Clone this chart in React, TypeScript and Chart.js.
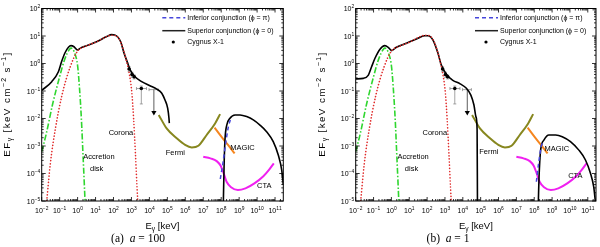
import React, { useEffect, useRef } from "react";
import { Chart, registerables } from "chart.js";
Chart.register(...registerables);

// ---- axis ranges (log10) ----
const X_LOG_MIN = -2;
const X_LOG_MAX = 11.46;
const Y_LOG_MIN = -5;
const Y_LOG_MAX = 2;
const xDecades = [-2, -1, 0, 1, 2, 3, 4, 5, 6, 7, 8, 9, 10, 11];
const yDecades = [-5, -4, -3, -2, -1, 0, 1, 2];

// ---- shared components (log10 E [keV], log10 EF) ----
const diskLogE = [-2, -1.74, -1.4, -1.05, -0.72, -0.45, -0.36, -0.14, 0.0, 0.1, 0.21, 0.3, 0.38, 0.42];
const diskLogF = [-3.2, -2.54, -1.5, -0.6, 0.15, 0.52, 0.56, 0.34, -0.08, -0.84, -2.0, -3.3, -4.48, -5.1];

const coronaLogE = [-1.72, -1.52, -1.24, -0.87, -0.4, 0.0, 0.5, 1.06, 1.62, 1.92, 2.2, 2.42, 2.72, 2.9, 3.02, 3.12, 3.22, 3.31, 3.36];
const coronaLogF = [-5.0, -3.65, -2.38, -1.15, -0.1, 0.45, 0.64, 0.79, 0.98, 1.03, 0.98, 0.75, 0.1, -0.45, -1.05, -2.0, -3.25, -4.5, -5.1];

const fermiLogE = [4.52, 4.96, 5.52, 5.99, 6.36, 6.73, 7.19, 7.66, 7.94];
const fermiLogF = [-1.87, -2.36, -2.72, -2.96, -3.05, -2.99, -2.6, -2.18, -1.84];

const magicLogE = [7.63, 8.01, 8.38, 8.75];
const magicLogF = [-2.33, -2.66, -2.96, -3.27];

const ctaLogE = [7.0, 7.4, 7.75, 7.97, 8.13, 8.3, 8.55, 8.93, 9.35, 9.85, 10.35, 10.65, 10.93];
const ctaLogF = [-3.39, -3.45, -3.55, -3.72, -3.98, -4.3, -4.5, -4.6, -4.54, -4.36, -4.1, -3.88, -3.63];

// Cygnus X-1 data
const cygLogE = [2.87, 3.03, 3.15, 3.55];
const cygLogF = [-0.2, -0.4, -0.48, -0.91];
const cygLogElo = [2.87, 3.0, 3.12, 3.28];
const cygLogEhi = [2.87, 3.06, 3.18, 3.84];
const cygLogFlo = [-0.3, -0.5, -0.56, -1.47];
const cygLogFhi = [-0.12, -0.32, -0.42, -0.82];
const ulLogE = [4.25];
const ulLogF = [-0.95];
const ulLogElo = [3.98];
const ulLogEhi = [4.48];
const ulLogFarrow = [-1.78];

// ---- panel (a) a = 100 ----
const supA1LogE = [-2, -1.44, -1.07, -0.89, -0.7, -0.51, -0.37, -0.2, -0.01, 0.14, 0.51, 1.06, 1.62, 1.9, 2.18, 2.4, 2.59, 2.77, 2.92, 3.2, 3.57, 4.03, 4.41, 4.69, 4.87, 5.02, 5.09, 5.11];
const supA1LogF = [-0.98, -0.66, -0.3, 0.07, 0.39, 0.59, 0.65, 0.61, 0.49, 0.55, 0.65, 0.79, 0.98, 1.05, 1.0, 0.79, 0.37, 0.05, -0.22, -0.48, -0.66, -0.81, -0.93, -1.08, -1.33, -1.63, -1.99, -2.17];
const supA2LogE = [8.12, 8.16, 8.21, 8.31, 8.49, 8.77, 9.05, 9.42, 9.79, 10.16, 10.53, 10.9, 11.18, 11.37, 11.46, 11.52];
const supA2LogF = [-5.05, -3.75, -2.78, -2.24, -1.99, -1.87, -1.87, -1.93, -2.05, -2.24, -2.48, -2.84, -3.33, -3.87, -4.42, -5.1];
const infALogE = [7.95, 8.1, 8.25, 8.4, 8.55];
const infALogF = [-4.2, -3.6, -2.9, -2.3, -1.97];

// ---- panel (b) a = 1 ----
const supB1LogE = [-2, -1.57, -1.29, -1.11, -0.92, -0.64, -0.37, -0.18, 0.01, 0.28, 0.84, 1.4, 1.86, 2.05, 2.33, 2.61, 2.79, 3.07, 3.44, 3.85, 4.2, 4.45, 4.62, 4.74, 4.8, 4.82];
const supB1LogF = [-0.56, -0.54, -0.42, -0.12, 0.19, 0.52, 0.65, 0.59, 0.47, 0.59, 0.74, 0.89, 1.01, 1.01, 0.85, 0.37, -0.05, -0.38, -0.61, -0.74, -0.9, -1.15, -1.5, -1.95, -2.4, -5.1];
const supB2LogE = [8.23, 8.27, 8.36, 8.55, 8.82, 9.2, 9.57, 10.03, 10.5, 10.87, 11.15, 11.33, 11.43];
const supB2LogF = [-5.05, -4.12, -3.15, -2.78, -2.6, -2.6, -2.66, -2.84, -3.15, -3.51, -3.99, -4.48, -5.05];
const infBLogE = [8.12, 8.25, 8.4, 8.5];
const infBLogF = [-4.3, -3.6, -3.0, -2.85];

const legendLabels = ["Inferior conjunction (\u03d5 = \u03c0)", "Superior conjunction (\u03d5 = 0)", "Cygnus X-1"];

const SANS = "'Liberation Sans', Arial, Helvetica, sans-serif";
const SERIF = "'Liberation Serif', 'Times New Roman', serif";

const pts = (le: number[], lf: number[]) => le.map((e, i) => ({ x: Math.pow(10, e), y: Math.pow(10, lf[i]) }));

type Seg = { t: string; s?: "sup" | "sub" };
function drawRich(ctx: CanvasRenderingContext2D, segs: Seg[], x: number, y: number, size: number, align: "left" | "center" | "right", spacing = 0) {
  const fontOf = (sg: Seg) => `${sg.s ? size * 0.7 : size}px ${SANS}`;
  const charW: number[][] = segs.map((sg) => {
    ctx.font = fontOf(sg);
    return Array.from(sg.t).map((c) => ctx.measureText(c).width + spacing);
  });
  const total = charW.flat().reduce((a, b) => a + b, 0) - spacing;
  let cx = align === "left" ? x : align === "center" ? x - total / 2 : x - total;
  ctx.textAlign = "left";
  ctx.textBaseline = "alphabetic";
  segs.forEach((sg, i) => {
    ctx.font = fontOf(sg);
    const dy = sg.s === "sup" ? -size * 0.42 : sg.s === "sub" ? size * 0.22 : 0;
    Array.from(sg.t).forEach((c, j) => {
      ctx.fillText(c, cx, y + dy);
      cx += charW[i][j];
    });
  });
}

interface Note { text: string; le: number; lf: number; align: "left" | "right" }
interface PanelCfg {
  left: number;
  padLeft: number;
  padRight: number;
  yTitleX: number;
  caption: string;
  captionX: number;
  sup1: [number[], number[]];
  sup2: [number[], number[]];
  inf: [number[], number[]];
  notes: Note[];
}

const panels: PanelCfg[] = [
  {
    left: 0, padLeft: 41.7, padRight: 16.7, yTitleX: 7, caption: "a", captionX: 138,
    sup1: [supA1LogE, supA1LogF], sup2: [supA2LogE, supA2LogF], inf: [infALogE, infALogF],
    notes: [
      { text: "Corona", le: 3.1, lf: -2.53, align: "right" },
      { text: "Accretion", le: 0.32, lf: -3.4, align: "left" },
      { text: "disk", le: 0.69, lf: -3.84, align: "left" },
      { text: "Fermi", le: 4.91, lf: -3.25, align: "left" },
      { text: "MAGIC", le: 8.5, lf: -3.06, align: "left" },
      { text: "CTA", le: 10.0, lf: -4.45, align: "left" },
    ],
  },
  {
    left: 300, padLeft: 55.7, padRight: 2.3, yTitleX: 21.5, caption: "b", captionX: 148,
    sup1: [supB1LogE, supB1LogF], sup2: [supB2LogE, supB2LogF], inf: [infBLogE, infBLogF],
    notes: [
      { text: "Corona", le: 3.12, lf: -2.53, align: "right" },
      { text: "Accretion", le: 0.34, lf: -3.4, align: "left" },
      { text: "disk", le: 0.75, lf: -3.84, align: "left" },
      { text: "Fermi", le: 4.92, lf: -3.21, align: "left" },
      { text: "MAGIC", le: 8.58, lf: -3.11, align: "left" },
      { text: "CTA", le: 9.9, lf: -4.08, align: "left" },
    ],
  },
];

const BLUE = "#4646dc";

function lineDs(le: number[], lf: number[], color: string, width: number, dash: number[], order: number, cap = "butt") {
  return {
    data: pts(le, lf),
    showLine: true,
    borderColor: color,
    backgroundColor: color,
    borderWidth: width,
    borderDash: dash,
    borderCapStyle: cap,
    pointRadius: 0,
    fill: false,
    cubicInterpolationMode: "monotone" as const,
    order,
  };
}

function makePlugin(cfg: PanelCfg) {
  return {
    id: "decor" + cfg.caption,
    beforeDatasetsDraw(chart: any) {
      const ctx: CanvasRenderingContext2D = chart.ctx;
      const xs = chart.scales.x, ys = chart.scales.y;
      const X = (l: number) => xs.getPixelForValue(Math.pow(10, l));
      const Y = (l: number) => ys.getPixelForValue(Math.pow(10, l));
      ctx.save();
      ctx.strokeStyle = "#8a8a8a";
      ctx.lineWidth = 0.8;
      const seg = (x1: number, y1: number, x2: number, y2: number) => {
        ctx.beginPath(); ctx.moveTo(x1, y1); ctx.lineTo(x2, y2); ctx.stroke();
      };
      cygLogE.forEach((e, i) => {
        const px = X(e), py = Y(cygLogF[i]);
        if (cygLogEhi[i] > cygLogElo[i]) {
          seg(X(cygLogElo[i]), py, X(cygLogEhi[i]), py);
          seg(X(cygLogElo[i]), py - 1.5, X(cygLogElo[i]), py + 1.5);
          seg(X(cygLogEhi[i]), py - 1.5, X(cygLogEhi[i]), py + 1.5);
        }
        seg(px, Y(cygLogFlo[i]), px, Y(cygLogFhi[i]));
        seg(px - 1.5, Y(cygLogFlo[i]), px + 1.5, Y(cygLogFlo[i]));
        seg(px - 1.5, Y(cygLogFhi[i]), px + 1.5, Y(cygLogFhi[i]));
      });
      ulLogE.forEach((e, i) => {
        const px = X(e), py = Y(ulLogF[i]);
        seg(X(ulLogElo[i]), py, X(ulLogEhi[i]), py);
        seg(X(ulLogElo[i]), py - 1.5, X(ulLogElo[i]), py + 1.5);
        seg(X(ulLogEhi[i]), py - 1.5, X(ulLogEhi[i]), py + 1.5);
        ctx.strokeStyle = "#333";
        seg(px, py, px, Y(ulLogFarrow[i]));
        ctx.strokeStyle = "#8a8a8a";
      });
      ctx.restore();
    },
    afterDraw(chart: any) {
      const ctx: CanvasRenderingContext2D = chart.ctx;
      const a = chart.chartArea;
      const xs = chart.scales.x, ys = chart.scales.y;
      const X = (l: number) => xs.getPixelForValue(Math.pow(10, l));
      const Y = (l: number) => ys.getPixelForValue(Math.pow(10, l));
      ctx.save();
      ctx.fillStyle = "#000";
      ctx.strokeStyle = "#000";
      // frame
      ctx.lineWidth = 1;
      ctx.strokeRect(a.left, a.top, a.right - a.left, a.bottom - a.top);
      // ticks
      ctx.lineWidth = 0.8;
      ctx.beginPath();
      for (let k = X_LOG_MIN; k <= Math.floor(X_LOG_MAX); k++) {
        for (let m = 1; m <= 9; m++) {
          const l = k + Math.log10(m);
          if (l > X_LOG_MAX) break;
          const px = X(l);
          const len = m === 1 ? 4 : 2;
          ctx.moveTo(px, a.bottom); ctx.lineTo(px, a.bottom - len);
          ctx.moveTo(px, a.top); ctx.lineTo(px, a.top + len);
        }
      }
      for (let k = Y_LOG_MIN; k <= Y_LOG_MAX; k++) {
        for (let m = 1; m <= 9; m++) {
          const l = k + Math.log10(m);
          if (l > Y_LOG_MAX) break;
          const py = Y(l);
          const len = m === 1 ? 4 : 2;
          ctx.moveTo(a.left, py); ctx.lineTo(a.left + len, py);
          ctx.moveTo(a.right, py); ctx.lineTo(a.right - len, py);
        }
      }
      ctx.stroke();
      // tick labels
      const fs = 7;
      xDecades.forEach((k) => {
        drawRich(ctx, [{ t: "10" }, { t: String(k).replace("-", "\u2212"), s: "sup" }], X(k), a.bottom + 11.5, fs, "center");
      });
      yDecades.forEach((k) => {
        drawRich(ctx, [{ t: "10" }, { t: String(k).replace("-", "\u2212"), s: "sup" }], a.left - 1.5, Y(k) + 2.5, fs, "right");
      });
      // axis titles
      drawRich(ctx, [{ t: "E" }, { t: "\u03b3", s: "sub" }, { t: " [keV]" }], (a.left + a.right) / 2, a.bottom + 28, 9.5, "center");
      ctx.save();
      ctx.translate(cfg.yTitleX, (a.top + a.bottom) / 2);
      ctx.rotate(-Math.PI / 2);
      drawRich(ctx, [{ t: "EF" }, { t: "\u03b3", s: "sub" }, { t: " [keV cm" }, { t: "\u22122", s: "sup" }, { t: " s" }, { t: "\u22121", s: "sup" }, { t: "]" }], 0, 3.3, 9.8, "center", 1.4);
      ctx.restore();
      // annotations
      ctx.font = `7.5px ${SANS}`;
      ctx.textBaseline = "middle";
      cfg.notes.forEach((n) => {
        ctx.textAlign = n.align;
        ctx.fillText(n.text, X(n.le), Y(n.lf));
      });
      // legend
      const lx = a.right - 121;
      const tx = a.right - 96;
      const rows = [a.top + 9.2, a.top + 22.2, a.top + 33.5];
      ctx.font = `7px ${SANS}`;
      ctx.textAlign = "left";
      ctx.textBaseline = "middle";
      ctx.lineWidth = 1.5;
      ctx.strokeStyle = BLUE;
      ctx.setLineDash([4, 3]);
      ctx.beginPath(); ctx.moveTo(lx, rows[0]); ctx.lineTo(lx + 23, rows[0]); ctx.stroke();
      ctx.setLineDash([]);
      ctx.strokeStyle = "#222";
      ctx.beginPath(); ctx.moveTo(lx, rows[1]); ctx.lineTo(lx + 23, rows[1]); ctx.stroke();
      ctx.beginPath(); ctx.arc(lx + 11, rows[2], 1.6, 0, Math.PI * 2); ctx.fill();
      legendLabels.forEach((t, i) => ctx.fillText(t, tx, rows[i]));
      ctx.restore();
    },
  };
}

function Panel({ cfg }: { cfg: PanelCfg }) {
  const ref = useRef<HTMLCanvasElement>(null);
  useEffect(() => {
    const datasets: any[] = [
      lineDs(coronaLogE, coronaLogF, "#e02a2a", 1.6, [0.1, 3], 0, "round"),
      lineDs(diskLogE, diskLogF, "#2fd62f", 1.6, [6, 2, 1.5, 2], 1),
      lineDs(cfg.inf[0], cfg.inf[1], BLUE, 1.5, [4, 3], 2),
      lineDs(cfg.sup1[0], cfg.sup1[1], "#000", 1.6, [], 3),
      lineDs(cfg.sup2[0], cfg.sup2[1], "#000", 1.6, [], 3),
      lineDs(magicLogE, magicLogF, "#f5861f", 2, [], 4),
      lineDs(fermiLogE, fermiLogF, "#87871f", 2, [], 5),
      lineDs(ctaLogE, ctaLogF, "#f020f0", 2, [], 5),
      {
        data: pts(cygLogE, cygLogF), showLine: false, pointRadius: 1.8, pointBackgroundColor: "#000",
        pointBorderColor: "#000", pointBorderWidth: 0, order: -1,
      },
      {
        data: pts(ulLogE, ulLogFarrow), showLine: false, pointStyle: "triangle", rotation: 180,
        pointRadius: 3, pointBackgroundColor: "#000", pointBorderColor: "#000", pointBorderWidth: 0, order: -1,
      },
    ];
    const chart = new Chart(ref.current!, {
      type: "scatter",
      data: { datasets },
      options: {
        animation: false,
        responsive: false,
        events: [],
        layout: { padding: { left: cfg.padLeft, right: cfg.padRight, top: 8.5, bottom: 46 } },
        plugins: { legend: { display: false }, tooltip: { enabled: false } },
        scales: {
          x: { type: "logarithmic", display: false, min: Math.pow(10, X_LOG_MIN), max: Math.pow(10, X_LOG_MAX) },
          y: { type: "logarithmic", display: false, min: Math.pow(10, Y_LOG_MIN), max: Math.pow(10, Y_LOG_MAX) },
        },
      } as any,
      plugins: [makePlugin(cfg)],
    });
    return () => chart.destroy();
  }, []);
  return (
    <div style={{ position: "absolute", left: cfg.left, top: 0, width: 300, height: 247 }}>
      <canvas ref={ref} width={300} height={247} style={{ display: "block", width: 300, height: 247 }} />
      <div
        style={{
          position: "absolute", left: cfg.captionX - 60, width: 120, top: 232, textAlign: "center",
          fontFamily: SERIF, fontSize: 11.5, lineHeight: "13px", color: "#000", whiteSpace: "nowrap",
        }}
      >
        ({cfg.caption})&nbsp;&nbsp;<i>a</i>&nbsp;=&nbsp;{cfg.caption === "a" ? "100" : "1"}
      </div>
    </div>
  );
}

export default function App() {
  return (
    <div style={{ position: "fixed", left: 0, top: 0, width: 600, height: 247, background: "#fff", overflow: "hidden" }}>
      {panels.map((p) => (
        <Panel key={p.caption} cfg={p} />
      ))}
    </div>
  );
}
